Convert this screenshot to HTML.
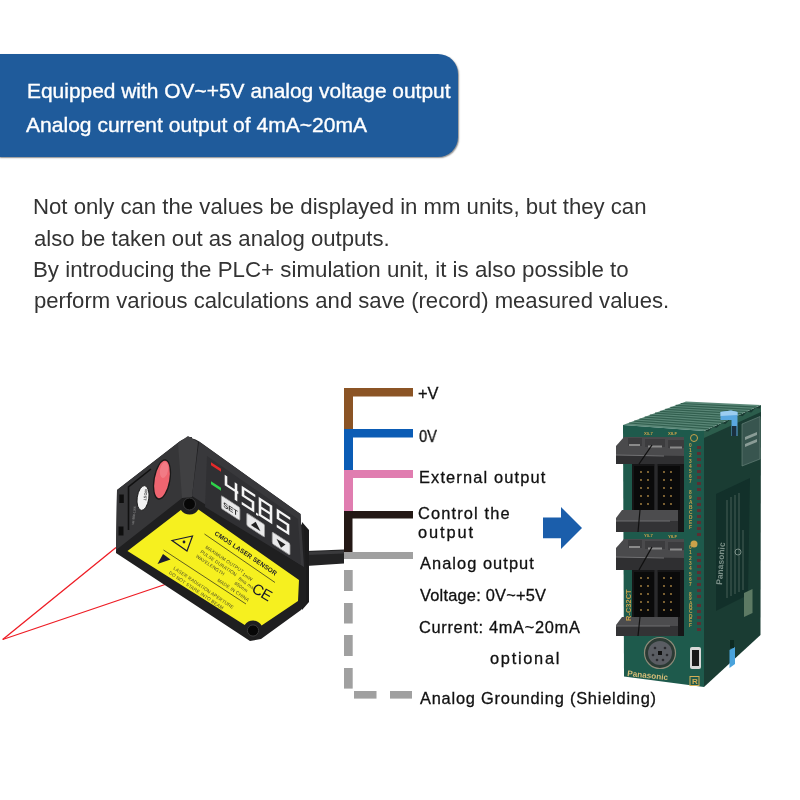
<!DOCTYPE html>
<html><head><meta charset="utf-8">
<style>
html,body{margin:0;padding:0;background:#fff;}
body{width:800px;height:800px;position:relative;overflow:hidden;font-family:"Liberation Sans",sans-serif;}
.t{position:absolute;white-space:nowrap;line-height:1;transform-origin:0 0;will-change:transform;}
.hd{color:#fff;font-size:20.3px;-webkit-text-stroke:0.35px #fff;}
.pp{color:#333;font-size:21.5px;}
.lb{color:#111;font-size:16.4px;-webkit-text-stroke:0.3px #111;}
#box{position:absolute;left:0;top:54px;width:458px;height:103px;background:#1f5b9b;border-radius:0 20px 20px 0;box-shadow:0.5px 1px 1.5px rgba(0,0,0,0.45);}
svg{position:absolute;left:0;top:0;}
</style></head><body>
<div id="box"></div>
<div class="t hd" id="h1" style="left:26.94px;top:81.00px;transform:scaleX(1.0319);">Equipped with OV~+5V analog voltage output</div>
<div class="t hd" id="h2" style="left:26.18px;top:114.60px;transform:scaleX(1.0378);">Analog current output of 4mA~20mA</div>

<div class="t pp" id="p1" style="left:32.74px;top:197.00px;transform:scaleX(1.0308);">Not only can the values be displayed in mm units, but they can</div>
<div class="t pp" id="p2" style="left:33.77px;top:228.50px;transform:scaleX(1.0298);">also be taken out as analog outputs.</div>
<div class="t pp" id="p3" style="left:32.73px;top:260.00px;transform:scaleX(1.0372);">By introducing the PLC+ simulation unit, it is also possible to</div>
<div class="t pp" id="p4" style="left:33.77px;top:291.00px;transform:scaleX(1.0280);">perform various calculations and save (record) measured values.</div>

<svg width="800" height="800" viewBox="0 0 800 800">
  <!-- wires -->
  <rect x="344" y="388" width="69" height="8.5" fill="#8b5425"/>
  <rect x="344" y="388" width="9" height="41" fill="#8b5425"/>
  <rect x="344" y="429" width="69" height="8.5" fill="#0b5cb5"/>
  <rect x="344" y="429" width="9" height="41" fill="#0b5cb5"/>
  <rect x="344" y="470" width="69" height="8" fill="#e07db0"/>
  <rect x="344" y="470" width="9" height="41" fill="#e07db0"/>
  <rect x="344" y="511" width="69" height="7.5" fill="#231815"/>
  <rect x="344" y="511" width="8.5" height="41" fill="#231815"/>
  <rect x="344" y="552" width="69" height="7" fill="#a0a0a0"/>
  <rect x="344" y="570" width="8.7" height="21" fill="#a0a0a0"/>
  <rect x="344" y="603" width="8.7" height="20.5" fill="#a0a0a0"/>
  <rect x="344" y="635" width="8.7" height="21" fill="#a0a0a0"/>
  <rect x="344" y="668" width="8.7" height="20.6" fill="#a0a0a0"/>
  <rect x="354" y="691" width="22.5" height="7.6" fill="#a0a0a0"/>
  <rect x="390" y="691" width="22" height="7.6" fill="#a0a0a0"/>
  <!-- arrow -->
  <polygon points="543,517.5 561,517.5 561,507 582,528 561,549 561,538.2 543,538.2" fill="#1b5eab"/>
</svg>


<svg id="sensor" width="800" height="800" viewBox="0 0 800 800">
  <!-- laser lines -->
  <line x1="2.7" y1="639.5" x2="116" y2="547.5" stroke="#ee1c24" stroke-width="1.3"/>
  <line x1="2.7" y1="639.5" x2="165" y2="584.5" stroke="#ee1c24" stroke-width="1.3"/>
  <!-- cable -->
  <polygon points="306,551 344,549.5 344,563.5 306,566" fill="#232324"/>
  <polygon points="306,552 344,550.5 344,553.5 306,555" fill="#3a3a3c"/>
  <!-- cable boss -->
  <polygon points="302,522 309,530 309,602 302,610" fill="#1b1b1c"/>
  <!-- silhouette / front face -->
  <path d="M117,490 L177,443.5 Q189,433 202,443.6 L300.5,514 L301,524 L304,527 L306,567 L306,604 L301,610 L261,639 L250,641 L116,553 Z" fill="#1f1f20"/>
  <!-- lens face -->
  <path d="M117,490 L177,443.5 Q186,436 192,437 L186,495 L116,550 Z" fill="#363638"/>
  <polygon points="178,443 188,436 198,442 192,497 182,498" fill="#404042"/>
  <!-- display face -->
  <polygon points="199,441.5 300.5,514 304,567 192,496" fill="#38383b"/>
  <polygon points="207,456 298,519 301,565 205,507" fill="#303033"/>
  <!-- yellow label -->
  <path d="M127.5,551 L180.9,510.1 A10.5,10.5 0 0 0 198.4,509.6 L299,580 L298,601 L261.6,625.4 A10,10 0 0 0 244.7,624.9 Z" fill="#f6f01f"/>
  <!-- holes -->
  <circle cx="189.5" cy="504" r="6" fill="#070707" stroke="#3a3a3b" stroke-width="1"/>
  <circle cx="253" cy="630.5" r="5.6" fill="#070707" stroke="#3a3a3b" stroke-width="1"/>
  <!-- lens -->
  <ellipse cx="162" cy="479.5" rx="8.5" ry="20.5" transform="rotate(10 162 479.5)" fill="#1a1a1a"/>
  <ellipse cx="162" cy="479.5" rx="7.2" ry="19" transform="rotate(10 162 479.5)" fill="#ee6570"/>
  <ellipse cx="164" cy="470" rx="4" ry="8" transform="rotate(10 164 470)" fill="#f48b92" opacity="0.6"/>
  <!-- MOST button -->
  <ellipse cx="143" cy="498" rx="5.8" ry="12.5" transform="rotate(8 143 498)" fill="#f2f2f2" stroke="#151515" stroke-width="0.9"/><text x="145" y="489" font-size="4" font-weight="bold" fill="#444" transform="rotate(98 145 489)">MOST</text><text x="134" y="525" font-size="3.2" fill="#9a9a9a" transform="rotate(-84 134 525)">VR-888-1166</text>
  <!-- slot -->
  <polyline points="151,469 128.5,487 128.5,530" fill="none" stroke="#111" stroke-width="1.6"/>
  <rect x="119.3" y="494.5" width="4.5" height="8.5" fill="#0e0e0e"/>
  <rect x="118.5" y="526.5" width="5" height="9" fill="#0e0e0e"/>
  <!-- display contents (skewed local coords) -->
  <g transform="matrix(1 0.65 0 1 0 0)">
    <rect x="211" y="325" width="10" height="3" fill="#e52a2a"/>
    <rect x="211" y="344" width="10" height="3" fill="#2ed34a"/>
    <g fill="none" stroke="#f4f4f4" stroke-width="2.6" stroke-linecap="square">
      <!-- 4 -->
      <path d="M226,330 V338 H237 M236,331 V346"/>
      <!-- 5 -->
      <path d="M254,330 H243 V337.5 H253 V346 H243"/>
      <!-- 8 -->
      <path d="M260,330 H271 V346 H260 Z M260,338 H271"/>
      <!-- 5 -->
      <path d="M289,330 H278 V337.5 H288 V346 H278"/>
    </g>
    <rect x="256" y="346" width="2.4" height="2.4" fill="#f4f4f4"/>
    <rect x="221.3" y="351.6" width="18.6" height="13" rx="1.5" fill="#e9e9ea" stroke="#9a9a9a" stroke-width="0.8"/>
    <text x="230.6" y="361.5" font-size="7.5" font-weight="bold" text-anchor="middle" fill="#333">SET</text>
    <rect x="246.8" y="352.6" width="17.8" height="12.7" rx="1.5" fill="#e9e9ea" stroke="#9a9a9a" stroke-width="0.8"/>
    <polygon points="255.7,355.5 260.5,362 250.9,362" fill="#222"/>
    <rect x="272.2" y="354.9" width="17.8" height="11.8" rx="1.5" fill="#e9e9ea" stroke="#9a9a9a" stroke-width="0.8"/>
    <polygon points="276.5,359 285.5,359 281,365" fill="#222"/>
  </g>
  <!-- label contents -->
  <g>
    <line x1="204.5" y1="534" x2="275" y2="582.5" stroke="#3a3a20" stroke-width="0.8"/>
    <line x1="163.5" y1="550" x2="246" y2="604" stroke="#3a3a20" stroke-width="0.8"/>
    <text x="214" y="534.5" font-size="6.4" font-weight="bold" fill="#1e1e28" transform="rotate(34 214 534.5)" letter-spacing="0.15">CMOS LASER SENSOR</text>
    <polygon points="172,540.5 192.5,536 187,551" fill="none" stroke="#1a1a30" stroke-width="1.2"/>
    <circle cx="184" cy="542" r="1.4" fill="#1a1a30"/>
    <polygon points="163,554 170.5,559.5 157.5,564" fill="#1a1a30"/>
    <g font-size="4.6" fill="#4a4a2a" letter-spacing="0.2">
      <text x="205" y="548" transform="rotate(34 205 548)">MAXIMUM OUTPUT</text>
      <text x="200" y="552.5" transform="rotate(34 200 552.5)">PULSE DURATION</text>
      <text x="195.5" y="557" transform="rotate(34 195.5 557)">WAVELENGTH</text>
      <text x="173" y="569" transform="rotate(34 173 569)">LASER RADIATION APERTURE</text>
      <text x="168.5" y="573.5" transform="rotate(34 168.5 573.5)">DO NOT STARE INTO BEAM</text>
      <text x="217" y="581" transform="rotate(34 217 581)">MADE IN CHINA</text>
      <text x="242" y="575" transform="rotate(34 242 575)">1mW</text>
      <text x="238" y="579.5" transform="rotate(34 238 579.5)">8ms max</text>
      <text x="234" y="584" transform="rotate(34 234 584)">650nm</text>
    </g>
    <text x="251" y="597" font-size="15" fill="#14142a" transform="rotate(30 261 594)" letter-spacing="-0.5">CE</text>
  </g>
</svg>


<svg id="plc" width="800" height="800" viewBox="0 0 800 800">
  <!-- right side face -->
  <polygon points="704,431 761,405 760.5,635 704,687" fill="#1a3c33"/>
  <polygon points="742,424 760,416.5 760,459 742,466" fill="#38554f" stroke="#6f8a82" stroke-width="0.6"/><g fill="#8a9c96"><polygon points="745,437 757,432 757,435 745,440"/><polygon points="745,444 757,439 757,442 745,447"/></g>
  <polygon points="716,494 750,478 748,595 716,611" fill="#12302a"/><polygon points="744,593 752.5,589 752.5,613 744,617" fill="#5d7a64"/>
  <polygon points="704.0,431.0 708.3,431.6 712.6,427.2 716.9,427.7 721.2,423.3 725.5,423.9 729.8,419.5 734.1,420.1 738.4,415.6 742.7,416.2 747.0,411.8 751.3,412.4 755.6,408.0 759.9,408.5 761,405 761,412 704,438" fill="#2c5d4c"/>
  <!-- top face -->
  <polygon points="623,425 686,401.5 761,405 704,431" fill="#5a8777"/>
  <g stroke="#325f4f" stroke-width="1.2"><line x1="629.2" y1="423.0" x2="708.8" y2="428.8"/><line x1="634.3" y1="421.1" x2="713.5" y2="426.7"/><line x1="639.5" y1="419.1" x2="718.2" y2="424.5"/><line x1="644.7" y1="417.2" x2="723.0" y2="422.3"/><line x1="649.8" y1="415.2" x2="727.8" y2="420.2"/><line x1="655.0" y1="413.2" x2="732.5" y2="418.0"/><line x1="660.2" y1="411.3" x2="737.2" y2="415.8"/><line x1="665.3" y1="409.3" x2="742.0" y2="413.7"/><line x1="670.5" y1="407.4" x2="746.8" y2="411.5"/><line x1="675.7" y1="405.4" x2="751.5" y2="409.3"/><line x1="680.8" y1="403.5" x2="756.2" y2="407.2"/></g>
  <g fill="#9fb0a8" opacity="0.75">
    <text x="722" y="585" font-size="8.5" font-weight="bold" transform="rotate(-86 722 585)">Panasonic</text>
  </g>
  <g stroke="#7f948a" stroke-width="0.6" opacity="0.8">
    <line x1="727" y1="598" x2="727" y2="500"/>
    <line x1="731" y1="596" x2="731" y2="497"/>
    <line x1="735" y1="594" x2="735" y2="495"/>
    <line x1="739" y1="592" x2="739" y2="493"/>
    <line x1="743" y1="590" x2="743" y2="530"/>
  </g>
  <circle cx="738" cy="552" r="3" fill="none" stroke="#9fb0a8" stroke-width="0.7"/>
  
  <!-- front face -->
  <polygon points="623,425 704,431 704,687 624,676.5" fill="#1e5a4c"/>
  <!-- blue clips -->
  <polygon points="720.5,412 731,410.5 737.5,412 737.5,436 731.5,436 731.5,420 720.5,420" fill="#5aa8e0"/><polygon points="720.5,412 731,410.5 737.5,412 737.5,415 720.5,416" fill="#9ccdf0"/><rect x="732" y="426" width="4.5" height="10" fill="#1a3040"/>
  <polygon points="729.5,650 735,647 735,664 729.5,668" fill="#4aa3dc"/><rect x="730" y="640" width="4" height="8" fill="#0d2a22"/>
  <!-- LED column -->
  <g fill="#5a2f33">
    <rect x="697" y="446" width="4" height="3"/><rect x="697" y="452" width="4" height="3"/>
    <rect x="697" y="458" width="4" height="3"/><rect x="697" y="464" width="4" height="3"/>
    <rect x="697" y="470" width="4" height="3"/><rect x="697" y="476" width="4" height="3"/>
    <rect x="697" y="482" width="4" height="3"/><rect x="697" y="488" width="4" height="3"/>
    <rect x="697" y="497" width="4" height="3"/><rect x="697" y="503" width="4" height="3"/>
    <rect x="697" y="509" width="4" height="3"/><rect x="697" y="515" width="4" height="3"/>
    <rect x="697" y="521" width="4" height="3"/><rect x="697" y="527" width="4" height="3"/>
    <rect x="697" y="533" width="4" height="3"/>
    <rect x="697" y="553" width="4" height="3"/><rect x="697" y="559" width="4" height="3"/>
    <rect x="697" y="565" width="4" height="3"/><rect x="697" y="571" width="4" height="3"/>
    <rect x="697" y="577" width="4" height="3"/><rect x="697" y="583" width="4" height="3"/>
    <rect x="697" y="589" width="4" height="3"/><rect x="697" y="595" width="4" height="3"/>
    <rect x="697" y="604" width="4" height="3"/><rect x="697" y="610" width="4" height="3"/>
    <rect x="697" y="616" width="4" height="3"/><rect x="697" y="622" width="4" height="3"/>
    <rect x="697" y="628" width="4" height="3"/>
  </g>
  <g fill="#c9a24a" font-size="4.5" font-family="Liberation Sans">
    <circle cx="694" cy="438" r="3.5" fill="none" stroke="#c9a24a" stroke-width="1"/>
    <circle cx="694" cy="544" r="3.5" fill="#c9a24a"/>
  </g>
  <g fill="#c9a24a" font-size="4.8" font-family="Liberation Sans" font-weight="bold"><text x="689" y="447.0">0</text><text x="689" y="452.2">1</text><text x="689" y="457.4">2</text><text x="689" y="462.6">3</text><text x="689" y="467.8">4</text><text x="689" y="473.0">5</text><text x="689" y="478.2">6</text><text x="689" y="483.4">7</text><text x="689" y="494.4">8</text><text x="689" y="499.3">9</text><text x="689" y="504.2">A</text><text x="689" y="509.1">B</text><text x="689" y="514.0">C</text><text x="689" y="518.9">D</text><text x="689" y="523.8">E</text><text x="689" y="528.7">F</text><text x="689" y="549.0">0</text><text x="689" y="554.3">1</text><text x="689" y="559.6">2</text><text x="689" y="564.9">3</text><text x="689" y="570.2">4</text><text x="689" y="575.5">5</text><text x="689" y="580.8">6</text><text x="689" y="586.1">7</text><text x="689" y="596.0">8</text><text x="689" y="600.4">9</text><text x="689" y="604.7">A</text><text x="689" y="609.1">B</text><text x="689" y="613.4">C</text><text x="689" y="617.8">D</text><text x="689" y="622.2">E</text><text x="689" y="626.5">F</text><text x="644" y="434.5" font-size="4.2">X0-7</text><text x="668" y="435" font-size="4.2">X8-F</text><text x="644" y="537" font-size="4.2">Y0-7</text><text x="668" y="537.5" font-size="4.2">Y8-F</text></g>
  <!-- connectors top -->
  <rect x="632" y="437" width="52" height="95" fill="#161617"/>
  <polygon points="616,446 624,437 684,437 684,464 616,464" fill="#4a4a4c"/>
  <rect x="628" y="438" width="14" height="8" fill="#3c3c3e"/>
  <rect x="645" y="439" width="20" height="8" fill="#3c3c3e"/>
  <rect x="668" y="440" width="16" height="8" fill="#3c3c3e"/>
  <rect x="629" y="444" width="11" height="2" fill="#8a8a8a"/>
  <rect x="648" y="445.5" width="14" height="2" fill="#8a8a8a"/>
  <rect x="670" y="446.5" width="12" height="2" fill="#8a8a8a"/>
  <polygon points="616,455 684,456 684,464 616,464" fill="#2f2f31"/>
  <line x1="616" y1="455" x2="664" y2="456" stroke="#707072" stroke-width="1"/>
  <line x1="652" y1="445" x2="639" y2="464" stroke="#101010" stroke-width="1.3"/>
  <rect x="634" y="466" width="20" height="44" fill="#0a0a0a"/>
  <rect x="658" y="466" width="22" height="44" fill="#0a0a0a"/>
  <rect x="654.5" y="464" width="3" height="46" fill="#2a2a2c"/>
  <polygon points="616,518 622,510 678,510 678,532 616,532" fill="#4c4c4e"/>
  <polygon points="616,521 678,521 678,532 616,532" fill="#333335"/>
  <line x1="616" y1="521" x2="670" y2="521" stroke="#6e6e70" stroke-width="1"/>
  <line x1="640" y1="510" x2="638" y2="532" stroke="#111" stroke-width="1.2"/>
  <!-- connectors bottom -->
  <rect x="632" y="539" width="52" height="97" fill="#161617"/>
  <polygon points="616,548 624,539 684,539 684,570 616,570" fill="#4a4a4c"/>
  <rect x="628" y="540" width="14" height="8" fill="#3c3c3e"/>
  <rect x="645" y="541" width="20" height="8" fill="#3c3c3e"/>
  <rect x="668" y="542" width="16" height="8" fill="#3c3c3e"/>
  <rect x="629" y="546" width="11" height="2" fill="#8a8a8a"/>
  <rect x="648" y="547.5" width="14" height="2" fill="#8a8a8a"/>
  <rect x="670" y="548.5" width="12" height="2" fill="#8a8a8a"/>
  <polygon points="616,557 684,558 684,570 616,570" fill="#2f2f31"/>
  <line x1="616" y1="557" x2="664" y2="558" stroke="#707072" stroke-width="1"/>
  <line x1="652" y1="547" x2="639" y2="570" stroke="#101010" stroke-width="1.3"/>
  <rect x="634" y="572" width="20" height="45" fill="#0a0a0a"/>
  <rect x="658" y="572" width="22" height="45" fill="#0a0a0a"/>
  <rect x="654.5" y="570" width="3" height="47" fill="#2a2a2c"/>
  <polygon points="616,625 622,617 678,617 678,636 616,636" fill="#4c4c4e"/>
  <polygon points="616,626 678,626 678,636 616,636" fill="#333335"/>
  <line x1="616" y1="626" x2="670" y2="626" stroke="#6e6e70" stroke-width="1"/>
  <line x1="640" y1="617" x2="638" y2="636" stroke="#111" stroke-width="1.2"/>
  <!-- pins -->
  <g fill="#b08a45">
    <circle cx="641" cy="472" r="0.9"/><circle cx="648" cy="472" r="0.9"/><circle cx="664" cy="472" r="0.9"/><circle cx="671" cy="472" r="0.9"/>
    <circle cx="641" cy="480" r="0.9"/><circle cx="648" cy="480" r="0.9"/><circle cx="664" cy="480" r="0.9"/><circle cx="671" cy="480" r="0.9"/>
    <circle cx="641" cy="488" r="0.9"/><circle cx="648" cy="488" r="0.9"/><circle cx="664" cy="488" r="0.9"/><circle cx="671" cy="488" r="0.9"/>
    <circle cx="641" cy="496" r="0.9"/><circle cx="648" cy="496" r="0.9"/><circle cx="664" cy="496" r="0.9"/><circle cx="671" cy="496" r="0.9"/>
    <circle cx="641" cy="504" r="0.9"/><circle cx="648" cy="504" r="0.9"/><circle cx="664" cy="504" r="0.9"/><circle cx="671" cy="504" r="0.9"/>
    <circle cx="641" cy="578" r="0.9"/><circle cx="648" cy="578" r="0.9"/><circle cx="664" cy="578" r="0.9"/><circle cx="671" cy="578" r="0.9"/>
    <circle cx="641" cy="586" r="0.9"/><circle cx="648" cy="586" r="0.9"/><circle cx="664" cy="586" r="0.9"/><circle cx="671" cy="586" r="0.9"/>
    <circle cx="641" cy="594" r="0.9"/><circle cx="648" cy="594" r="0.9"/><circle cx="664" cy="594" r="0.9"/><circle cx="671" cy="594" r="0.9"/>
    <circle cx="641" cy="602" r="0.9"/><circle cx="648" cy="602" r="0.9"/><circle cx="664" cy="602" r="0.9"/><circle cx="671" cy="602" r="0.9"/>
    <circle cx="641" cy="610" r="0.9"/><circle cx="648" cy="610" r="0.9"/><circle cx="664" cy="610" r="0.9"/><circle cx="671" cy="610" r="0.9"/>
  </g>
  <text x="631" y="621" font-size="7.5" font-weight="bold" fill="#c9a24a" transform="rotate(-90 631 621)">R-C32CT</text>
  <!-- mini DIN -->
  <circle cx="660" cy="653" r="15.5" fill="#2b3a34" stroke="#8c8a78" stroke-width="1.2"/>
  <circle cx="660" cy="653" r="12" fill="#5a5d63"/><g fill="#2a2a2e"><circle cx="655" cy="648" r="1.3"/><circle cx="665" cy="648" r="1.3"/><circle cx="653" cy="655" r="1.3"/><circle cx="667" cy="655" r="1.3"/><circle cx="657" cy="660" r="1.3"/><circle cx="663" cy="660" r="1.3"/></g>
  <rect x="658" y="651" width="4" height="4" fill="#111"/>
  <!-- USB -->
  <rect x="690" y="647" width="11" height="22" rx="2" fill="#d8d8d8"/>
  <rect x="692" y="650" width="7" height="16" fill="#1a1a1a"/>
  <!-- Panasonic -->
  <text x="627" y="676" font-size="8.2" font-weight="bold" fill="#d6bd78" transform="rotate(6 627 676)">Panasonic</text>
  <rect x="690" y="676.5" width="9" height="9" fill="none" stroke="#d2ad55" stroke-width="1"/><text x="692" y="684" font-size="8" font-weight="bold" fill="#d2ad55">R</text>
</svg>

<div class="t lb" id="l1" style="left:418.10px;top:385.30px;letter-spacing:0.000px;">+V</div>
<div class="t lb" id="l2" style="left:418.60px;top:427.50px;transform:scaleX(0.90);">0V</div>
<div class="t lb" id="l3" style="left:418.95px;top:469.00px;letter-spacing:1.143px;">External output</div>
<div class="t lb" id="l4" style="left:418.44px;top:505.20px;letter-spacing:1.140px;">Control the</div>
<div class="t lb" id="l5" style="left:418.38px;top:523.70px;letter-spacing:1.880px;">output</div>
<div class="t lb" id="l6" style="left:419.50px;top:554.50px;letter-spacing:1.050px;">Analog output</div>
<div class="t lb" id="l7" style="left:420.00px;top:587.00px;letter-spacing:0.214px;">Voltage: 0V~+5V</div>
<div class="t lb" id="l8" style="left:419.01px;top:618.60px;letter-spacing:0.688px;">Current: 4mA~20mA</div>
<div class="t lb" id="l9" style="left:489.87px;top:649.50px;letter-spacing:1.714px;">optional</div>
<div class="t lb" id="l10" style="left:420.00px;top:690.00px;letter-spacing:0.778px;">Analog Grounding (Shielding)</div>

</body></html>
